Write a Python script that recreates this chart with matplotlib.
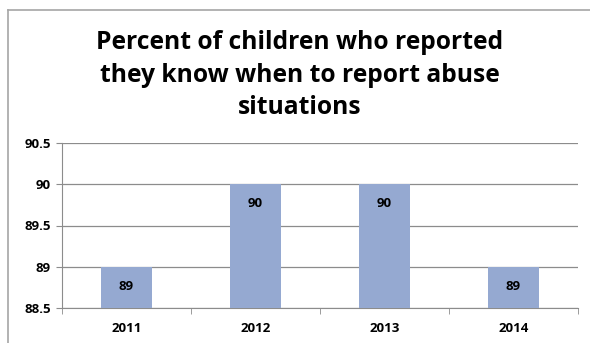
import matplotlib.pyplot as plt
from matplotlib.lines import Line2D

years = ['2011', '2012', '2013', '2014']
percent = [89, 90, 90, 89]
yticks = [88.5, 89, 89.5, 90, 90.5]
ytick_labels = ['88.5', '89', '89.5', '90', '90.5']

plt.rcParams['font.family'] = ['Open Sans', 'DejaVu Sans']

fig = plt.figure(figsize=(5.9, 3.43), dpi=100)
ax = fig.add_axes([62 / 590, 1 - 308 / 343, 516 / 590, 165 / 343])

# outer chart frame (top and left edges only show)
fig.add_artist(Line2D([8 / 590, 1.0], [1 - 10 / 343] * 2, color='#a6a6a6', lw=1.2, transform=fig.transFigure))
fig.add_artist(Line2D([8 / 590] * 2, [0.0, 1 - 10 / 343], color='#a6a6a6', lw=1.2, transform=fig.transFigure))

x = range(len(years))
bars = ax.bar(x, percent, width=0.4, color='#95a9d1', zorder=3, bottom=0)
ax.set_ylim(88.5, 90.5)
ax.set_xlim(-0.5, len(years) - 0.5)
ax.set_yticks(yticks)
ax.set_yticklabels(ytick_labels, fontsize=9.5, fontweight='bold')
ax.yaxis.grid(True, color='#8c8c8c', lw=0.9, zorder=0)

ax.set_xticks(list(x))
ax.set_xticklabels(years, fontsize=9.5, fontweight='bold')
ax.tick_params(axis='x', length=0, pad=10)
ax.tick_params(axis='y', length=4, color='#8c8c8c', pad=4)
# category boundary ticks
ax.set_xticks([i - 0.5 for i in range(len(years) + 1)], minor=True)
ax.tick_params(axis='x', which='minor', length=4, color='#8c8c8c')

for s in ['top', 'right']:
    ax.spines[s].set_visible(False)
for s in ['left', 'bottom']:
    ax.spines[s].set_color('#8c8c8c')

for xi, v in zip(x, percent):
    ax.annotate(str(v), (xi, v), xytext=(0, -14), textcoords='offset points',
                ha='center', va='center', fontsize=9.5, fontweight='bold')

fig.text(300 / 590, 1 - 75 / 343,
         'Percent of children who reported\nthey know when to report abuse\nsituations',
         ha='center', va='center', fontsize=17.7, fontweight='bold', linespacing=1.42)

fig.savefig('out.png', dpi=100)
